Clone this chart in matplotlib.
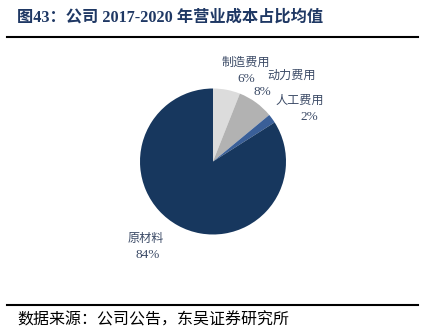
import matplotlib
matplotlib.use("Agg")
import matplotlib.pyplot as plt
from matplotlib.lines import Line2D

categories = ["制造费用", "动力费用", "人工费用", "原材料"]
values = [6, 8, 2, 84]
colors = ["#dcdcdc", "#b2b2b2", "#3a5f98", "#17375e"]

title = "图43：公司 2017-2020 年营业成本占比均值"
source = "数据来源：公司公告，东吴证券研究所"

W, H = 426, 331
fig = plt.figure(figsize=(W / 100, H / 100), dpi=100)

fams = ["Liberation Serif", "Noto Sans CJK SC"]

# pie axes: center (213,161.5) px, radius 73 px
cx, cy, r = 213, 161.5, 73
ax = fig.add_axes([(cx - r) / W, (H - cy - r) / H, 2 * r / W, 2 * r / H])
ax.pie(values, colors=colors, startangle=90, counterclock=False,
       radius=1.0, wedgeprops=dict(linewidth=0))
ax.set_xlim(-1, 1)
ax.set_ylim(-1, 1)
ax.set_aspect("equal")
ax.axis("off")

# labels (pixel positions of label centers)
label_pos = {
    "制造费用": ((246, 63), (246, 79)),
    "动力费用": ((292, 76), (262, 92)),
    "人工费用": ((300, 101), (309, 117)),
    "原材料": ((146, 239), (148, 255)),
}
lab_color = "#3b4a66"
for cat, v in zip(categories, values):
    (nx, ny), (px, py) = label_pos[cat]
    fig.text(nx / W, 1 - ny / H, cat, ha="center", va="center",
             fontsize=8.7, color=lab_color, family=fams)
    fig.text(px / W, 1 - py / H, f"{v}%", ha="center", va="center",
             fontsize=9.5, color=lab_color, family=fams)

# title
fig.text(17 / W, 1 - 18 / H, title, ha="left", va="center", fontsize=11.7,
         fontweight="bold", color="#1f3864", family=fams)
# rules
fig.add_artist(Line2D([7 / W, 418 / W], [1 - 37 / H, 1 - 37 / H],
                      color="black", linewidth=1.5, transform=fig.transFigure))
fig.add_artist(Line2D([7 / W, 418 / W], [1 - 305 / H, 1 - 305 / H],
                      color="black", linewidth=1.5, transform=fig.transFigure))
# source
fig.text(17 / W, 1 - 321 / H, source, ha="left", va="center", fontsize=11.5,
         color="black", family=fams)

fig.savefig("out.png", dpi=100)
